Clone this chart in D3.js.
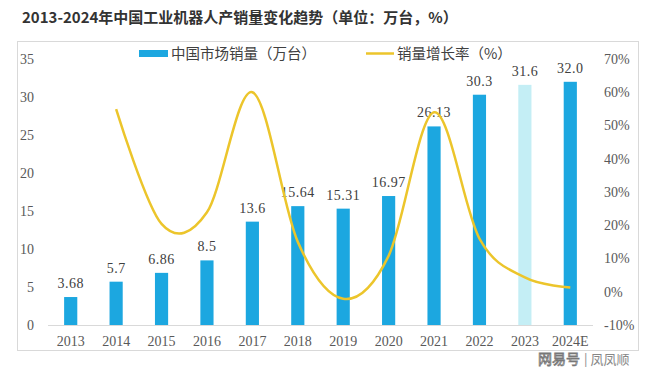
<!DOCTYPE html>
<html><head><meta charset="utf-8">
<script src="https://cdn.jsdelivr.net/npm/d3@7"></script>
<style>body{margin:0;background:#fff;} svg{display:block;}</style>
</head><body>
<script>
const years = ["2013","2014","2015","2016","2017","2018","2019","2020","2021","2022","2023","2024E"];
const sales = [3.68,5.7,6.86,8.5,13.6,15.64,15.31,16.97,26.13,30.3,31.6,32.0];
const salesLabels = ["3.68","5.7","6.86","8.5","13.6","15.64","15.31","16.97","26.13","30.3","31.6","32.0"];
const growthYears = ["2014","2015","2016","2017","2018","2019","2020","2021","2022","2023","2024E"];
const growth = [54.9,20.4,23.9,60.0,15.0,-2.1,10.8,54.0,16.0,4.3,1.3];
const leftTicks = [0,5,10,15,20,25,30,35];
const rightTicks = [-10,0,10,20,30,40,50,60,70];

const W=660,H=367;
const svg=d3.select("body").append("svg").attr("width",W).attr("height",H);
const serif="'Liberation Serif','Noto Sans CJK SC',serif";
const cjk="'Noto Sans CJK SC','Liberation Serif',sans-serif";

// frame
svg.append("rect").attr("x",17.5).attr("y",41.5).attr("width",621).attr("height",309)
  .attr("fill","none").attr("stroke","#d9d9d9").attr("stroke-width",1);

// title
svg.append("text").attr("x",22).attr("y",23).attr("font-family",cjk).attr("font-weight","bold")
  .attr("font-size",15).attr("fill","#333").text("2013-2024年中国工业机器人产销量变化趋势（单位：万台，%）");

const x=d3.scaleBand().domain(years).range([48,593]).paddingInner(0.71).paddingOuter(0.355);
const y=d3.scaleLinear().domain([0,35]).range([325,59]);
const y2=d3.scaleLinear().domain([-10,70]).range([325,59]);

// left axis
const la=svg.append("g").attr("transform","translate(34,0)")
  .call(d3.axisLeft(y).tickValues(leftTicks).tickSize(0).tickPadding(0));
la.select(".domain").remove();
la.selectAll("text").attr("font-family",serif).attr("font-size",14).attr("fill","#595959");

// right axis
const ra=svg.append("g").attr("transform","translate(604,0)")
  .call(d3.axisRight(y2).tickValues(rightTicks).tickSize(0).tickPadding(0).tickFormat(d=>d+"%"));
ra.select(".domain").remove();
ra.selectAll("text").attr("font-family",serif).attr("font-size",14).attr("fill","#595959");

// baseline
svg.append("line").attr("x1",48).attr("x2",593).attr("y1",y(0)+0.5).attr("y2",y(0)+0.5)
  .attr("stroke","#d9d9d9").attr("stroke-width",1);

// bars
svg.selectAll("rect.bar").data(years).enter().append("rect").attr("class","bar")
  .attr("x",d=>x(d)).attr("width",x.bandwidth())
  .attr("y",(d,i)=>y(sales[i])).attr("height",(d,i)=>y(0)-y(sales[i]))
  .attr("fill",(d,i)=>d==="2023"?"#c4eef5":"#1ca7e0");

// bar labels
svg.selectAll("text.bl").data(years).enter().append("text").attr("class","bl")
  .attr("x",d=>x(d)+x.bandwidth()/2).attr("y",(d,i)=>y(sales[i])-9)
  .attr("text-anchor","middle").attr("font-family",serif).attr("font-size",14)
  .attr("fill","#404040").attr("letter-spacing",0.5).text((d,i)=>salesLabels[i]);

// x labels
const xa=svg.append("g").attr("transform","translate(0,"+y(0)+")")
  .call(d3.axisBottom(x).tickSize(0).tickPadding(11));
xa.select(".domain").remove();
xa.selectAll("text").attr("font-family",serif).attr("font-size",14).attr("fill","#595959");

// growth line
const line=d3.line().x((d,i)=>x(growthYears[i])+x.bandwidth()/2).y(d=>y2(d)).curve(d3.curveCatmullRom.alpha(0));
svg.append("path").datum(growth).attr("d",line).attr("fill","none")
  .attr("stroke","#ecc52b").attr("stroke-width",2.5);

// legend
svg.append("rect").attr("x",139).attr("y",50).attr("width",29).attr("height",7).attr("fill","#1ca7e0");
svg.append("text").attr("x",171).attr("y",59).attr("font-family",cjk).attr("font-size",14.5)
  .attr("fill","#404040").text("中国市场销量（万台）");
svg.append("line").attr("x1",366).attr("x2",394).attr("y1",53.5).attr("y2",53.5)
  .attr("stroke","#ecc52b").attr("stroke-width",2.5);
svg.append("text").attr("x",397).attr("y",59).attr("font-family",cjk).attr("font-size",14.5)
  .attr("fill","#404040").text("销量增长率（%）");

// watermark
svg.append("text").attr("x",538).attr("y",364).attr("font-family",cjk).attr("font-size",14)
  .attr("fill","#fff").attr("stroke","#777").attr("stroke-width",0.8).text("网易号");
svg.append("text").attr("x",584).attr("y",364).attr("font-family",cjk).attr("font-size",13)
  .attr("fill","#888").text("| 凤凤顺");
</script>
</body></html>
